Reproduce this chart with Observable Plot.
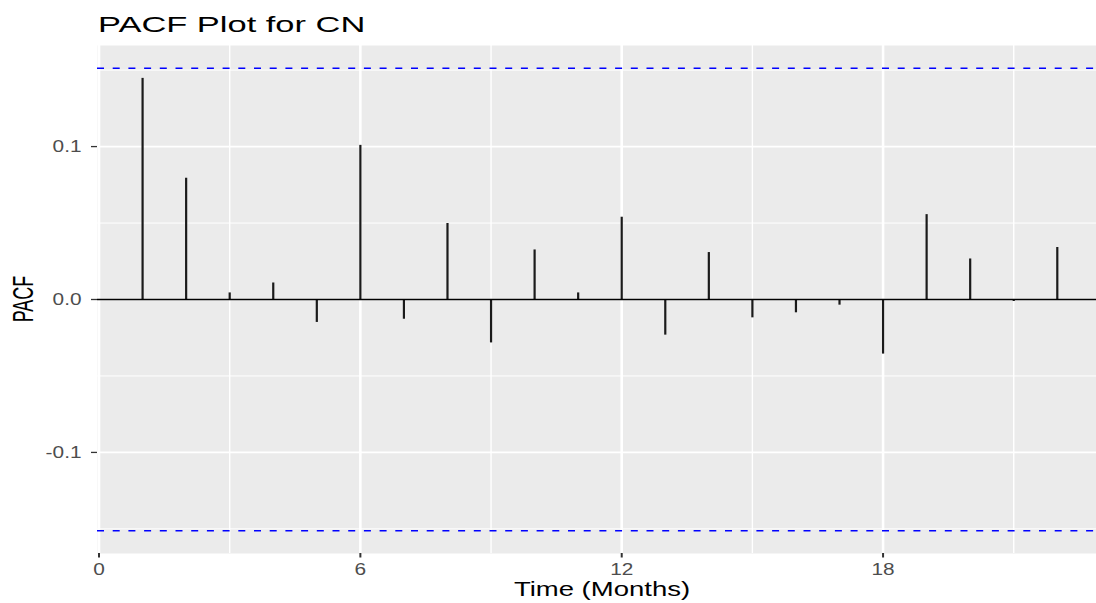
<!DOCTYPE html>
<html>
<head>
<meta charset="utf-8">
<script src="https://cdn.jsdelivr.net/npm/d3@7"></script>
<script src="https://cdn.jsdelivr.net/npm/@observablehq/plot@0.6"></script>
<style>
  body { margin: 0; background: white; }
  #wrap { position: relative; width: 1096px; height: 603px; background: white; overflow: hidden; font-family: "Liberation Sans", Arial, sans-serif; }
  #title { position: absolute; left: 98px; top: 13.9px; font-size: 21.8px; line-height: 21.8px; color: #000; white-space: nowrap; transform: scaleX(1.58); transform-origin: left top; }
  #chart { position: absolute; left: 0; top: 45px; }
  #xlab { position: absolute; left: 401.5px; width: 400px; top: 580.2px; font-size: 19.5px; line-height: 19.5px; text-align: center; color: #000; transform: scaleX(1.41); transform-origin: center; }
  #ylab { position: absolute; left: -27px; width: 100px; top: 289px; height: 20px; font-size: 18px; line-height: 20px; text-align: center; color: #000; transform: rotate(-90deg) scaleY(1.6); transform-origin: center; }
</style>
</head>
<body>
<div id="wrap">
  <div id="title">PACF Plot for CN</div>
  <div id="chart"></div>
  <div id="xlab">Time (Months)</div>
  <div id="ylab">PACF</div>
</div>
<script>
// Data
const lags = [1, 2, 3, 4, 5, 6, 7, 8, 9, 10, 11, 12, 13, 14, 15, 16, 17, 18, 19, 20, 21, 22];
const pacfValues = [0.1446, 0.0793, 0.0043, 0.0108, -0.0150, 0.1008, -0.0129, 0.0497, -0.0284, 0.0324, 0.0043,
                    0.0538, -0.0233, 0.0307, -0.0120, -0.0087, -0.0037, -0.0357, 0.0555, 0.0265, -0.0013, 0.0340];
const ciBound = 0.1512;
const xMajorTicks = [0, 6, 12, 18];
const xMinorTicks = [3, 9, 15, 21];
const yMajorTicks = [-0.1, 0.0, 0.1];
const yMinorTicks = [-0.15, -0.05, 0.05, 0.15];

const data = lags.map((lag, i) => ({lag, pacf: pacfValues[i]}));

const chart = Plot.plot({
  width: 1096,
  height: 558,
  marginLeft: 97,
  marginRight: 0,
  marginTop: 0,
  marginBottom: 50,
  style: {fontFamily: "Liberation Sans, Arial, sans-serif", fontSize: "16px", background: "white", color: "#4d4d4d"},
  x: {domain: [-0.035, 22.9]},
  y: {domain: [-0.1661, 0.1661]},
  marks: [
    Plot.frame({fill: "#ebebeb", stroke: "none"}),
    Plot.ruleX(xMinorTicks, {stroke: "white", strokeWidth: 1.4}),
    Plot.ruleY(yMinorTicks, {stroke: "white", strokeWidth: 1}),
    Plot.ruleX(xMajorTicks, {stroke: "white", strokeWidth: 2.6}),
    Plot.ruleY(yMajorTicks, {stroke: "white", strokeWidth: 1.6}),
    Plot.ruleX(data, {x: "lag", y1: 0, y2: "pacf", stroke: "#1a1a1a", strokeWidth: 2.2}),
    Plot.ruleY([0], {stroke: "#000", strokeWidth: 1.4}),
    Plot.ruleY([-ciBound, ciBound], {stroke: "#0000ff", strokeWidth: 1.5, strokeDasharray: "7,8.7"}),
    Plot.axisX({ticks: xMajorTicks, tickSize: 4.5, tickPadding: 6, stroke: "#333", strokeWidth: 2, fill: "#4d4d4d", label: null, tickFormat: d => String(d)}),
    Plot.axisY({ticks: yMajorTicks, tickSize: 6, tickPadding: 10, stroke: "#333", strokeWidth: 1.3, fill: "#4d4d4d", label: null, tickFormat: d => d.toFixed(1)})
  ]
});

document.getElementById("chart").appendChild(chart);

// widen tick labels to match the reference's horizontally stretched glyphs
chart.querySelectorAll('g[aria-label$="tick label"] text').forEach(t => {
  const len = t.getComputedTextLength();
  if (len > 0) {
    t.setAttribute("textLength", (len * 1.3).toFixed(1));
    t.setAttribute("lengthAdjust", "spacingAndGlyphs");
  }
});
</script>
</body>
</html>
